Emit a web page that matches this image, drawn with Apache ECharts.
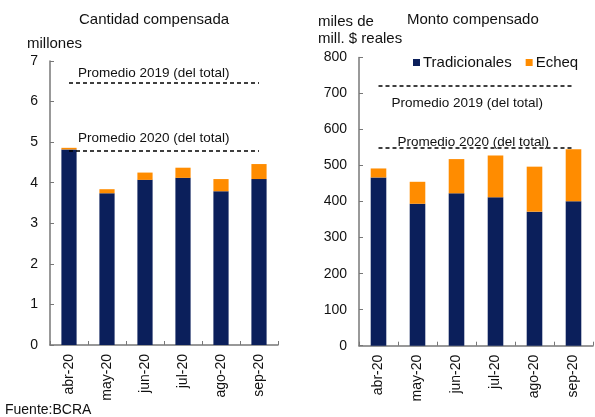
<!DOCTYPE html>
<html><head><meta charset="utf-8">
<script src="https://cdn.jsdelivr.net/npm/echarts@6/dist/echarts.min.js"></script>
<style>html,body{margin:0;padding:0;background:#fff}#c{width:595px;height:417px}</style>
</head><body><div id="c"></div>
<script>
const categories = ['abr-20','may-20','jun-20','jul-20','ago-20','sep-20'];
const cantTradicionales = [4.82, 3.74, 4.07, 4.12, 3.79, 4.09];
const cantEcheq = [0.04, 0.10, 0.18, 0.25, 0.30, 0.37];
const montoTradicionales = [467, 394, 423, 412, 372, 401];
const montoEcheq = [25, 61, 95, 116, 125, 144];
const cantProm2019 = 6.46, cantProm2020 = 4.78;
const montoProm2019 = 722, montoProm2020 = 549;
const leftTicks = [0,1,2,3,4,5,6,7];
const rightTicks = [0,100,200,300,400,500,600,700,800];

const NAVY = '#0B1F5B', ORANGE = '#FF8C00', FONT = 'Liberation Sans, Arial, sans-serif';
const chart = echarts.init(document.getElementById('c'));

function xAx(gi){return {type:'category',gridIndex:gi,data:categories,
  axisLine:{lineStyle:{color:'#777',width:1.5}},
  axisTick:{show:true,inside:true,length:4,lineStyle:{color:'#777'}},
  axisLabel:{rotate:90,color:'#111',fontSize:14,fontFamily:FONT,margin:9}};}
function yAx(gi,max,interval){return {type:'value',gridIndex:gi,min:0,max:max,interval:interval,
  axisLine:{show:true,lineStyle:{color:'#777',width:1.5}},
  axisTick:{show:true,inside:true,length:4,lineStyle:{color:'#777'}},
  splitLine:{show:false},
  axisLabel:{color:'#111',fontSize:14,fontFamily:FONT,margin:12}};}
function ml(v1,l1,pos1,d1,v2,l2,pos2,d2){
  const base={symbol:['none','none'],silent:true,lineStyle:{color:'#000',type:[4,3],width:1.5}};
  const ls={show:true,color:'#111',fontSize:13.5,fontFamily:FONT};
  return Object.assign(base,{data:[
    [{coord:[categories[0],v1],label:Object.assign({formatter:l1,position:pos1,distance:d1},ls)},{coord:[categories[5],v1]}],
    [{coord:[categories[0],v2],label:Object.assign({formatter:l2,position:pos2,distance:d2},ls)},{coord:[categories[5],v2]}]
  ]});
}
const tStyle = {fontSize:15,fontWeight:'normal',color:'#111',fontFamily:FONT};

chart.setOption({
  animation:false,
  textStyle:{fontFamily:FONT},
  title:[
    {text:'Cantidad compensada',left:74,top:7,textStyle:tStyle},
    {text:'millones',left:22,top:31,textStyle:tStyle},
    {text:'Monto compensado',left:402,top:7,textStyle:tStyle},
    {text:'miles de\nmill. $ reales',left:313,top:8,textStyle:Object.assign({lineHeight:17},tStyle)},
    {text:'Fuente:BCRA',left:0,top:398,textStyle:Object.assign({},tStyle,{fontSize:14})}
  ],
  legend:{data:['Tradicionales','Echeq'],left:408,top:50,itemWidth:7,itemHeight:7,itemGap:14,icon:'rect',
    textStyle:{fontSize:15,color:'#111',fontFamily:FONT,padding:[0,0,0,-2]}},
  grid:[
    {left:50,right:317,top:61,bottom:72},
    {left:359,right:2,top:57.5,bottom:71.3}
  ],
  xAxis:[xAx(0),xAx(1)],
  yAxis:[yAx(0,7,1),yAx(1,800,100)],
  series:[
    {name:'Tradicionales',type:'bar',stack:'a',xAxisIndex:0,yAxisIndex:0,data:cantTradicionales,barWidth:'40%',itemStyle:{color:NAVY},
      markLine:ml(cantProm2019,'Promedio 2019 (del total)','insideStartTop',[9,3],cantProm2020,'Promedio 2020 (del total)','insideStartTop',[9,6])},
    {name:'Echeq',type:'bar',stack:'a',xAxisIndex:0,yAxisIndex:0,data:cantEcheq,barWidth:'40%',itemStyle:{color:ORANGE}},
    {name:'Tradicionales',type:'bar',stack:'b',xAxisIndex:1,yAxisIndex:1,data:montoTradicionales,barWidth:'40%',itemStyle:{color:NAVY},
      markLine:ml(montoProm2019,'Promedio 2019 (del total)','insideStartBottom',[13,11],montoProm2020,'Promedio 2020 (del total)','insideStartTop',[19,-1])},
    {name:'Echeq',type:'bar',stack:'b',xAxisIndex:1,yAxisIndex:1,data:montoEcheq,barWidth:'40%',itemStyle:{color:ORANGE}}
  ]
});
</script></body></html>
